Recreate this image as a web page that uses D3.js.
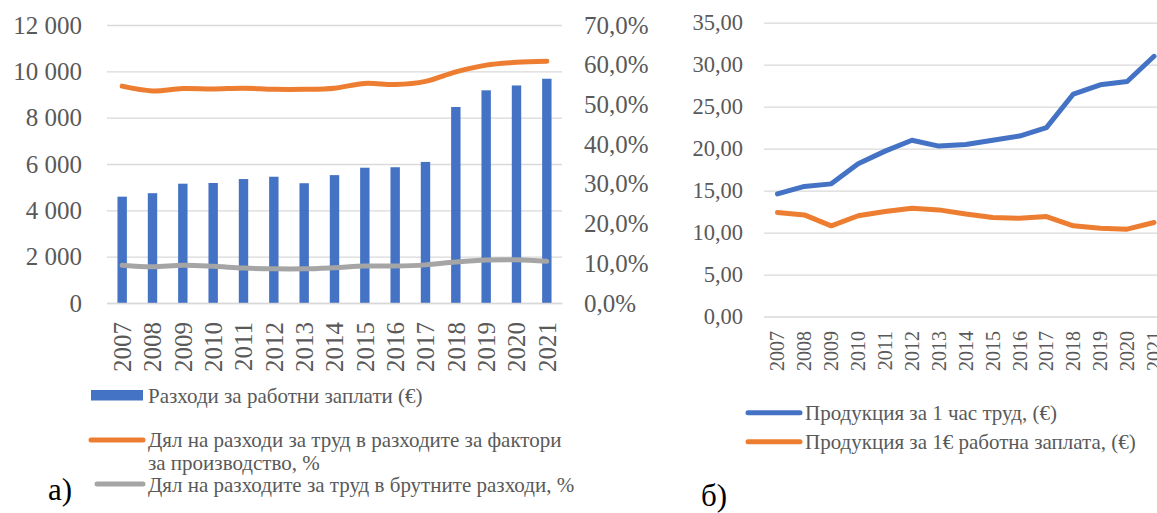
<!DOCTYPE html>
<html><head><meta charset="utf-8">
<script src="https://cdn.jsdelivr.net/npm/d3@7"></script>
<style>
html,body{margin:0;padding:0;background:#fff;}
svg{display:block;}
svg text{font-family:"Liberation Serif","Times New Roman",serif !important;}
</style></head>
<body>
<svg id="chart" width="1157" height="513"></svg>
<script>
// ---- Data ----
const years = ["2007","2008","2009","2010","2011","2012","2013","2014","2015","2016","2017","2018","2019","2020","2021"];
const wageCosts = [4590,4740,5150,5180,5350,5450,5170,5520,5840,5860,6090,8460,9180,9390,9680];
const laborShareFactors = [0.546,0.534,0.540,0.539,0.541,0.538,0.538,0.541,0.553,0.550,0.558,0.582,0.599,0.606,0.609];
const laborShareGross = [0.095,0.091,0.095,0.0925,0.088,0.086,0.086,0.089,0.093,0.093,0.096,0.103,0.108,0.109,0.105];
const outputPerHour = [14.6,15.5,15.8,18.2,19.7,21.0,20.3,20.5,21.0,21.5,22.5,26.5,27.6,28.0,31.0];
const outputPerWageEuro = [12.4,12.1,10.8,12.0,12.5,12.9,12.7,12.2,11.8,11.7,11.9,10.8,10.5,10.4,11.2];
const leftTicks = [0,2000,4000,6000,8000,10000,12000];
const pctTicks = [0,0.1,0.2,0.3,0.4,0.5,0.6,0.7];
const rightTicks = [0,5,10,15,20,25,30,35];
const legendA = ["Разходи за работни заплати (€)",
  ["Дял на разходи за труд в разходите за фактори","за производство, %"],
  "Дял на разходите за труд в брутните разходи, %"];
const legendB = ["Продукция за 1 час труд, (€)","Продукция за 1€ работна заплата, (€)"];

const BLUE="#4472C4", ORANGE="#ED7D31", GRAY="#A5A5A5", TXT="#595959", GRID="#D9D9D9";
const loc = d3.formatLocale({decimal:",",thousands:" ",grouping:[3],currency:["",""],percent:"%"});
const fThou = loc.format(",.0f"), fPct = loc.format(".1%"), f2 = loc.format(".2f");

const svg = d3.select("#chart");

// ---- Chart a ----
const xA = d3.scaleBand().domain(years).range([107,562]);
const yA = d3.scaleLinear().domain([0,12000]).range([303,25]);
const yP = d3.scaleLinear().domain([0,0.7]).range([303,25]);

const gA = svg.append("g");
const gridA = gA.append("g").attr("transform","translate(107,0)")
  .call(d3.axisLeft(yA).tickValues(leftTicks).tickSize(-(562-107)).tickFormat(fThou).tickPadding(25))
  .attr("font-family",null).attr("font-size",null);
gridA.select(".domain").remove();
gridA.selectAll(".tick line").attr("stroke",GRID).attr("stroke-width",1.3);
gridA.selectAll(".tick text").attr("fill",TXT).style("font-size","25px");

const rA = gA.append("g").attr("transform","translate(562,0)")
  .call(d3.axisRight(yP).tickValues(pctTicks).tickSize(0).tickFormat(fPct).tickPadding(22))
  .attr("font-family",null).attr("font-size",null);
rA.select(".domain").remove();
rA.selectAll(".tick text").attr("fill",TXT).style("font-size","25px");

const barW = xA.bandwidth()*0.31;
gA.append("g").selectAll("rect").data(years).join("rect")
  .attr("x",d=>xA(d)+xA.bandwidth()/2-barW/2)
  .attr("width",barW)
  .attr("y",(d,i)=>yA(wageCosts[i]))
  .attr("height",(d,i)=>yA(0)-yA(wageCosts[i]))
  .attr("fill",BLUE);

const bxA = gA.append("g").attr("transform","translate(0,303)")
  .call(d3.axisBottom(xA).tickSize(0).tickPadding(0))
  .attr("font-family",null).attr("font-size",null);
bxA.select(".domain").attr("stroke",GRID).attr("stroke-width",1.5);
bxA.selectAll(".tick text").attr("fill",TXT).style("font-size","25px")
  .attr("text-anchor","end").attr("transform","translate(0,19) rotate(-90)").attr("x",0).attr("y",0).attr("dy","0.35em");

const lineA = d3.line().x((d,i)=>xA(years[i])+xA.bandwidth()/2).y(d=>yP(d)).curve(d3.curveCatmullRom.alpha(0.5));
gA.append("path").attr("d",lineA(laborShareGross)).attr("fill","none").attr("stroke",GRAY).attr("stroke-width",5).attr("stroke-linecap","round");
gA.append("path").attr("d",lineA(laborShareFactors)).attr("fill","none").attr("stroke",ORANGE).attr("stroke-width",5).attr("stroke-linecap","round");

// legend a
const lgA = svg.append("g").style("font-size","21px").attr("fill",TXT);
lgA.append("rect").attr("x",91).attr("y",390).attr("width",52).attr("height",10.5).attr("fill",BLUE);
lgA.append("text").attr("x",148).attr("y",403).text(legendA[0]);
lgA.append("line").attr("x1",91).attr("x2",143).attr("y1",440).attr("y2",440).attr("stroke",ORANGE).attr("stroke-width",5).attr("stroke-linecap","round");
lgA.append("text").attr("x",148).attr("y",447).text(legendA[1][0]);
lgA.append("text").attr("x",148).attr("y",470).text(legendA[1][1]);
lgA.append("line").attr("x1",97).attr("x2",143).attr("y1",484).attr("y2",484).attr("stroke",GRAY).attr("stroke-width",5).attr("stroke-linecap","round");
lgA.append("text").attr("x",148).attr("y",492).text(legendA[2]);
svg.append("text").attr("x",48).attr("y",500).attr("fill","#000").style("font-size","31px").text("а)");

// ---- Chart b ----
const xB = d3.scaleBand().domain(years).range([764,1167.5]);
const yB = d3.scaleLinear().domain([0,35]).range([316.5,22.7]);
const gB = svg.append("g");
const gridB = gB.append("g").attr("transform","translate(764,0)")
  .call(d3.axisLeft(yB).tickValues(rightTicks).tickSize(-(1167.5-764)).tickFormat(f2).tickPadding(21))
  .attr("font-family",null).attr("font-size",null);
gridB.select(".domain").remove();
gridB.selectAll(".tick line").attr("stroke",GRID).attr("stroke-width",1.3);
gridB.selectAll(".tick text").attr("fill",TXT).style("font-size","22.5px");

const bxB = gB.append("g").attr("transform","translate(0,316.5)")
  .call(d3.axisBottom(xB).tickSize(0).tickPadding(0))
  .attr("font-family",null).attr("font-size",null);
bxB.select(".domain").remove();
bxB.selectAll(".tick text").attr("fill",TXT).style("font-size","20px")
  .attr("text-anchor","end").attr("transform","translate(0,14.5) rotate(-90)").attr("x",0).attr("y",0).attr("dy","0.35em");

const lineB = d3.line().x((d,i)=>xB(years[i])+xB.bandwidth()/2).y(d=>yB(d));
gB.append("path").attr("d",lineB(outputPerHour)).attr("fill","none").attr("stroke",BLUE).attr("stroke-width",5).attr("stroke-linecap","round").attr("stroke-linejoin","round");
gB.append("path").attr("d",lineB(outputPerWageEuro)).attr("fill","none").attr("stroke",ORANGE).attr("stroke-width",5).attr("stroke-linecap","round").attr("stroke-linejoin","round");

const lgB = svg.append("g").style("font-size","21px").attr("fill",TXT);
lgB.append("line").attr("x1",748).attr("x2",800).attr("y1",412.7).attr("y2",412.7).attr("stroke",BLUE).attr("stroke-width",5).attr("stroke-linecap","round");
lgB.append("text").attr("x",805).attr("y",420).text(legendB[0]);
lgB.append("line").attr("x1",748).attr("x2",800).attr("y1",441.7).attr("y2",441.7).attr("stroke",ORANGE).attr("stroke-width",5).attr("stroke-linecap","round");
lgB.append("text").attr("x",805).attr("y",449).text(legendB[1]);
svg.append("text").attr("x",701).attr("y",506).attr("fill","#000").style("font-size","31px").text("б)");
</script>
</body></html>
